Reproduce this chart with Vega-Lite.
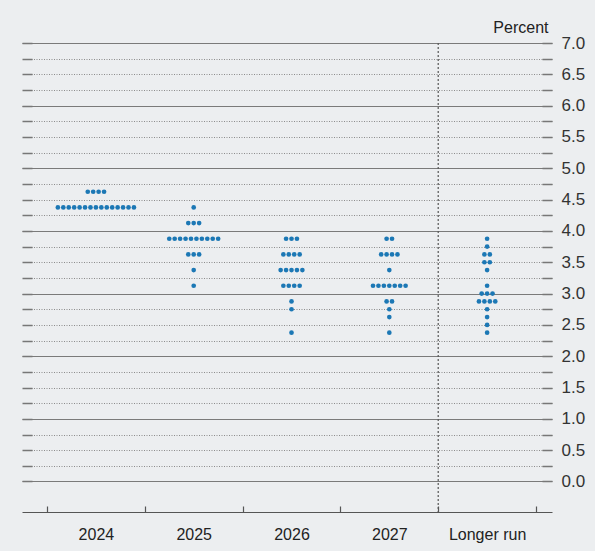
{
  "$schema": "https://vega.github.io/schema/vega-lite/v6.json",
  "width": 530,
  "height": 469,
  "autosize": "none",
  "padding": {"left": 22, "top": 43, "right": 43, "bottom": 39},
  "background": "#eceef0",
  "config": {"view": {"stroke": null}, "font": "Liberation Sans"},
  "data": {"values": [
    {"period": "2024", "rate": 4.625}, {"period": "2024", "rate": 4.625}, {"period": "2024", "rate": 4.625}, {"period": "2024", "rate": 4.625},
    {"period": "2024", "rate": 4.375}, {"period": "2024", "rate": 4.375}, {"period": "2024", "rate": 4.375}, {"period": "2024", "rate": 4.375}, {"period": "2024", "rate": 4.375},
    {"period": "2024", "rate": 4.375}, {"period": "2024", "rate": 4.375}, {"period": "2024", "rate": 4.375}, {"period": "2024", "rate": 4.375}, {"period": "2024", "rate": 4.375},
    {"period": "2024", "rate": 4.375}, {"period": "2024", "rate": 4.375}, {"period": "2024", "rate": 4.375}, {"period": "2024", "rate": 4.375}, {"period": "2024", "rate": 4.375},
    {"period": "2025", "rate": 4.375},
    {"period": "2025", "rate": 4.125}, {"period": "2025", "rate": 4.125}, {"period": "2025", "rate": 4.125},
    {"period": "2025", "rate": 3.875}, {"period": "2025", "rate": 3.875}, {"period": "2025", "rate": 3.875}, {"period": "2025", "rate": 3.875}, {"period": "2025", "rate": 3.875},
    {"period": "2025", "rate": 3.875}, {"period": "2025", "rate": 3.875}, {"period": "2025", "rate": 3.875}, {"period": "2025", "rate": 3.875}, {"period": "2025", "rate": 3.875},
    {"period": "2025", "rate": 3.625}, {"period": "2025", "rate": 3.625}, {"period": "2025", "rate": 3.625},
    {"period": "2025", "rate": 3.375},
    {"period": "2025", "rate": 3.125},
    {"period": "2026", "rate": 3.875}, {"period": "2026", "rate": 3.875}, {"period": "2026", "rate": 3.875},
    {"period": "2026", "rate": 3.625}, {"period": "2026", "rate": 3.625}, {"period": "2026", "rate": 3.625}, {"period": "2026", "rate": 3.625},
    {"period": "2026", "rate": 3.375}, {"period": "2026", "rate": 3.375}, {"period": "2026", "rate": 3.375}, {"period": "2026", "rate": 3.375}, {"period": "2026", "rate": 3.375},
    {"period": "2026", "rate": 3.125}, {"period": "2026", "rate": 3.125}, {"period": "2026", "rate": 3.125}, {"period": "2026", "rate": 3.125},
    {"period": "2026", "rate": 2.875},
    {"period": "2026", "rate": 2.75},
    {"period": "2026", "rate": 2.375},
    {"period": "2027", "rate": 3.875}, {"period": "2027", "rate": 3.875},
    {"period": "2027", "rate": 3.625}, {"period": "2027", "rate": 3.625}, {"period": "2027", "rate": 3.625}, {"period": "2027", "rate": 3.625},
    {"period": "2027", "rate": 3.375},
    {"period": "2027", "rate": 3.125}, {"period": "2027", "rate": 3.125}, {"period": "2027", "rate": 3.125}, {"period": "2027", "rate": 3.125}, {"period": "2027", "rate": 3.125}, {"period": "2027", "rate": 3.125}, {"period": "2027", "rate": 3.125},
    {"period": "2027", "rate": 2.875}, {"period": "2027", "rate": 2.875},
    {"period": "2027", "rate": 2.75},
    {"period": "2027", "rate": 2.625},
    {"period": "2027", "rate": 2.375},
    {"period": "Longer run", "rate": 3.875},
    {"period": "Longer run", "rate": 3.75},
    {"period": "Longer run", "rate": 3.625}, {"period": "Longer run", "rate": 3.625},
    {"period": "Longer run", "rate": 3.5}, {"period": "Longer run", "rate": 3.5},
    {"period": "Longer run", "rate": 3.375},
    {"period": "Longer run", "rate": 3.125},
    {"period": "Longer run", "rate": 3.0}, {"period": "Longer run", "rate": 3.0}, {"period": "Longer run", "rate": 3.0},
    {"period": "Longer run", "rate": 2.875}, {"period": "Longer run", "rate": 2.875}, {"period": "Longer run", "rate": 2.875}, {"period": "Longer run", "rate": 2.875},
    {"period": "Longer run", "rate": 2.75},
    {"period": "Longer run", "rate": 2.625},
    {"period": "Longer run", "rate": 2.5},
    {"period": "Longer run", "rate": 2.375}
  ]},
  "layer": [
    {
      "mark": {"type": "tick", "opacity": 0},
      "encoding": {
        "x": {
          "field": "period", "type": "nominal",
          "scale": {"type": "band", "domain": ["2024", "2025", "2026", "2027", "Longer run"], "paddingInner": 0, "paddingOuter": 0.2096, "align": 0.61},
          "axis": {
            "title": null, "orient": "bottom", "tickBand": "extent",
            "domainColor": "#555", "domainWidth": 1.2,
            "tickColor": "#555", "tickSize": -6, "tickWidth": 1.2,
            "labelFontSize": 16, "labelColor": "#222", "labelPadding": 20, "labelAngle": 0, "grid": false
          }
        },
        "y": {
          "field": "rate", "type": "quantitative",
          "scale": {"domain": [-0.487, 7], "nice": false, "zero": false},
          "axis": {
            "orient": "left", "values": [0, 0.25, 0.5, 0.75, 1, 1.25, 1.5, 1.75, 2, 2.25, 2.5, 2.75, 3, 3.25, 3.5, 3.75, 4, 4.25, 4.5, 4.75, 5, 5.25, 5.5, 5.75, 6, 6.25, 6.5, 6.75, 7],
            "title": null, "labels": false, "domain": false, "grid": false,
            "tickSize": -10, "tickColor": "#777", "tickWidth": 1.5
          }
        }
      }
    },
    {
      "mark": {"type": "rule", "strokeDash": [2, 2], "color": "#555", "strokeWidth": 1.2},
      "transform": [{"filter": "datum.period === 'Longer run' && datum.rate === 2.375"}],
      "encoding": {
        "x": {"field": "period", "type": "nominal", "bandPosition": 0}
      }
    },
    {
      "mark": {"type": "circle", "size": 22, "opacity": 1, "color": "#1c78b5"},
      "transform": [
        {"window": [{"op": "row_number", "as": "rank"}, {"op": "count", "as": "n"}], "groupby": ["period", "rate"], "frame": [null, null]},
        {"calculate": "datum.rank - (datum.n + 1) / 2", "as": "off"}
      ],
      "encoding": {
        "x": {"field": "period", "type": "nominal"},
        "xOffset": {"field": "off", "type": "quantitative", "scale": {"domain": [-9, 9]}},
        "y": {
          "field": "rate", "type": "quantitative",
          "axis": {
            "orient": "right", "values": [0, 0.25, 0.5, 0.75, 1, 1.25, 1.5, 1.75, 2, 2.25, 2.5, 2.75, 3, 3.25, 3.5, 3.75, 4, 4.25, 4.5, 4.75, 5, 5.25, 5.5, 5.75, 6, 6.25, 6.5, 6.75, 7],
            "labelExpr": "datum.value % 0.5 === 0 ? format(datum.value, '.1f') : ''",
            "labelFontSize": 17, "labelColor": "#333", "labelPadding": 19,
            "domain": false,
            "tickSize": -10, "tickColor": "#777", "tickWidth": 1.5,
            "grid": true,
            "gridColor": {"condition": {"test": "datum.value % 1 === 0", "value": "#7a7a7a"}, "value": "#8c8c8c"},
            "gridDash": {"condition": {"test": "datum.value % 1 === 0", "value": []}, "value": [1, 1.5]},
            "gridWidth": {"condition": {"test": "datum.value % 1 === 0", "value": 1.2}, "value": 1},
            "title": "Percent", "titleAngle": 0, "titleAlign": "right", "titleBaseline": "alphabetic",
            "titleX": -4, "titleY": -11, "titleFontSize": 16, "titleFontWeight": "normal", "titleColor": "#222"
          }
        }
      }
    }
  ],
  "resolve": {"axis": {"y": "independent"}}
}
